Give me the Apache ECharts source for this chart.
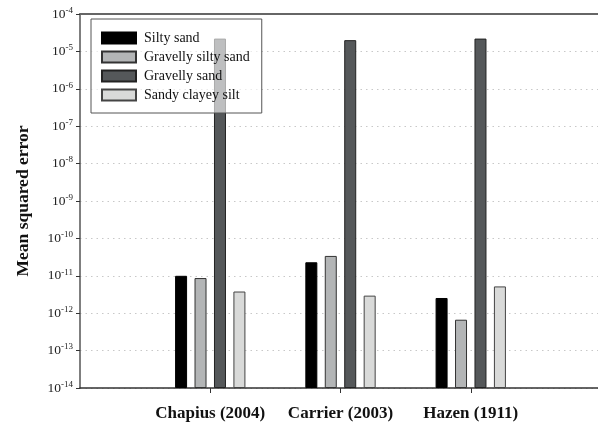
<!DOCTYPE html>
<html><head><meta charset="utf-8">
<script src="https://cdn.jsdelivr.net/npm/echarts@6/dist/echarts.min.js"></script>
<style>html,body{margin:0;padding:0;background:#fff}#c{width:598px;height:426px}</style>
</head><body><div id="c"></div>
<script>
const categories = ['', 'Chapius (2004)', 'Carrier (2003)', 'Hazen (1911)', ''];
const seriesNames = ['Silty sand', 'Gravelly silty sand', 'Gravelly sand', 'Sandy clayey silt'];
const siltySand = ['-', 1.0e-11, 2.3e-11, 2.55e-12, '-'];
const gravellySiltySand = ['-', 8.7e-12, 3.4e-11, 6.7e-13, '-'];
const gravellySand = ['-', 2.2e-5, 2.0e-5, 2.2e-5, '-'];
const sandyClayeySilt = ['-', 3.8e-12, 2.95e-12, 5.2e-12, '-'];
const yMin = 1e-14, yMax = 1e-4;

const colors = ['#000000', '#b3b5b6', '#55585a', '#d9dad9'];
const borders = ['#000000', '#333333', '#222222', '#444444'];
const values = [siltySand, gravellySiltySand, gravellySand, sandyClayeySilt];
const serif = '"Liberation Serif", "Times New Roman", serif';

const chart = echarts.init(document.getElementById('c'));
chart.setOption({
  animation: false,
  grid: { left: 80, top: 14, width: 521, bottom: 38, containLabel: false, outerBoundsMode: 'none' },
  legend: {
    orient: 'vertical', left: 91, top: 19,
    padding: [12, 12, 11, 10], itemGap: 5,
    itemWidth: 34, itemHeight: 11, icon: 'rect',
    backgroundColor: 'rgba(255,255,255,0.62)', borderColor: '#555', borderWidth: 1,
    textStyle: { fontFamily: serif, fontSize: 14, color: '#111', padding: [0,0,0,3] },
    data: seriesNames
  },
  xAxis: [{
    type: 'category', data: categories, boundaryGap: false,
    axisLine: { lineStyle: { color: '#333', width: 1.5 } },
    axisTick: { show: true, length: 5, interval: (i, v) => v !== '', lineStyle: { color: '#333' } },
    axisLabel: { interval: 0, margin: 17, fontFamily: serif, fontWeight: 'bold', fontSize: 17, color: '#111' }
  }, {
    type: 'category', data: categories, boundaryGap: false, position: 'top',
    axisLine: { lineStyle: { color: '#666', width: 2 } },
    axisTick: { show: false }, axisLabel: { show: false }
  }],
  yAxis: {
    type: 'log', logBase: 10, min: yMin, max: yMax, startValue: yMin,
    interval: 1, splitNumber: 10,
    name: 'Mean squared error', nameLocation: 'middle', nameGap: 48,
    nameTextStyle: { fontFamily: serif, fontWeight: 'bold', fontSize: 17.5, color: '#111' },
    axisLine: { show: true, lineStyle: { color: '#555', width: 1.5 } },
    axisTick: { show: true, length: 4, lineStyle: { color: '#333' } },
    splitLine: { show: true, lineStyle: { color: '#c8c8c8', type: [1.5, 4], width: 1 } },
    axisLabel: {
      margin: 7,
      formatter: v => '{b|10}{s|' + Math.round(Math.log10(v)) + '}',
      rich: {
        b: { fontFamily: serif, fontSize: 13.5, color: '#222' },
        s: { fontFamily: serif, fontSize: 9, color: '#222', padding: [0, 0, 7, 0] }
      }
    }
  },
  series: seriesNames.map((n, i) => ({
    name: n, type: 'bar', data: values[i],
    barWidth: 12, barGap: '62%',
    itemStyle: { color: colors[i], borderColor: borders[i], borderWidth: 1 }
  }))
});
</script></body></html>
